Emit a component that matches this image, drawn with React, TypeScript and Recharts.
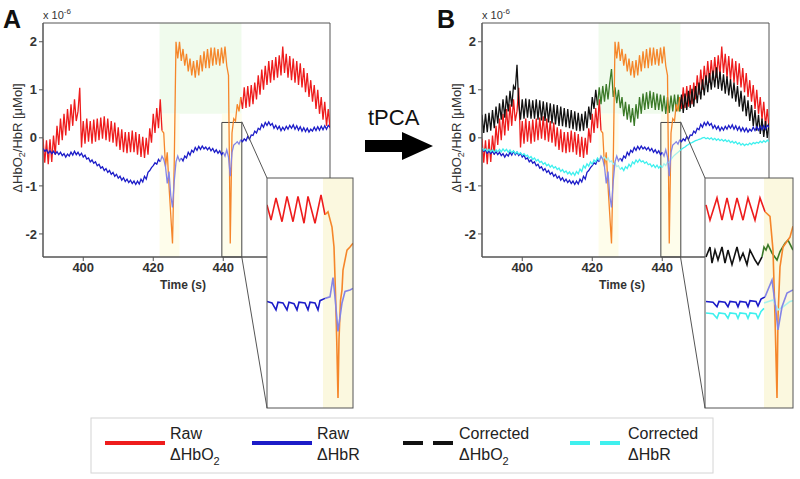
import React from 'react';
import { LineChart, Line, XAxis, YAxis, ReferenceArea } from 'recharts';

// samples every 0.5 s starting at 388.5 s, values in 1e-6 Mol
const T0 = 388.5;
const DT = 0.5;

const rawHbO2 = [
  -0.02, -0.52, -0.05, -0.55, -0.03, -0.5, 0.05, -0.35, 0.25, -0.15,
  0.4, -0.05, 0.5, 0.05, 0.6, 0.15, 0.7, 0.25, 0.8, 0.35,
  0.55, 1.04, -0.2, 0.35, -0.12, 0.4, -0.08, 0.35, -0.12, 0.38,
  -0.08, 0.4, -0.05, 0.42, -0.02, 0.45, -0.05, 0.4, -0.08, 0.35,
  -0.1, 0.32, -0.18, 0.22, -0.25, 0.18, -0.3, 0.12, -0.32, 0.12,
  -0.3, 0.15, -0.3, 0.12, -0.35, 0.08, -0.4, 0.02, -0.42, 0.0,
  -0.35, 0.2, -0.1, 0.5, 0.1, 0.62, 0.2, 0.8, 0.15, 0.1,
  -0.6, -0.3, -1.0, -1.6, -2.2, -0.5, 2.0, 1.65, 2.0, 1.6,
  1.85, 1.5, 1.75, 1.38, 1.65, 1.3, 1.6, 1.25, 1.62, 1.3,
  1.72, 1.38, 1.8, 1.45, 1.85, 1.45, 1.88, 1.5, 1.88, 1.52,
  1.85, 1.5, 1.88, 1.55, 1.9, 1.5, 1.3, -2.2, 0.1, 0.4,
  0.35, 0.7, 0.55, 0.85, 0.6, 1.05, 0.62, 1.08, 0.65, 1.1,
  0.7, 1.15, 0.8, 1.3, 0.9, 1.42, 1.0, 1.5, 1.1, 1.6,
  1.15, 1.62, 1.2, 1.68, 1.25, 1.72, 1.3, 1.9, 1.35, 1.75,
  1.25, 1.7, 1.2, 1.65, 1.15, 1.6, 1.1, 1.55, 1.05, 1.45,
  0.95, 1.35, 0.85, 1.2, 0.75, 1.1, 0.6, 1.0, 0.5, 0.85,
  0.38, 0.75, 0.25, 0.6, 0.2,
];

const rawHbR = [
  -0.22, -0.28, -0.25, -0.32, -0.27, -0.33, -0.28, -0.34, -0.29, -0.35,
  -0.3, -0.37, -0.33, -0.4, -0.34, -0.38, -0.3, -0.36, -0.28, -0.35,
  -0.3, -0.37, -0.32, -0.4, -0.36, -0.44, -0.42, -0.5, -0.46, -0.53,
  -0.5, -0.58, -0.55, -0.63, -0.6, -0.68, -0.64, -0.72, -0.68, -0.76,
  -0.72, -0.8, -0.76, -0.84, -0.8, -0.88, -0.83, -0.91, -0.86, -0.93,
  -0.88, -0.95, -0.9, -0.97, -0.9, -0.96, -0.86, -0.92, -0.8, -0.86,
  -0.72, -0.68, -0.62, -0.58, -0.52, -0.55, -0.45, -0.5, -0.38, -0.45,
  -0.6, -0.95, -0.7, -1.2, -1.45, -0.9, -0.5, -0.38, -0.48, -0.42,
  -0.48, -0.38, -0.42, -0.3, -0.36, -0.26, -0.3, -0.2, -0.26, -0.18,
  -0.24, -0.17, -0.23, -0.19, -0.25, -0.2, -0.27, -0.22, -0.3, -0.25,
  -0.32, -0.27, -0.35, -0.3, -0.38, -0.25, -0.4, -0.8, -0.3, -0.15,
  -0.12, -0.08, -0.13, -0.04, -0.08, -0.02, -0.06, 0.03, -0.03, 0.06,
  0.05, 0.14, 0.1, 0.2, 0.17, 0.28, 0.22, 0.32, 0.26, 0.33,
  0.26, 0.3, 0.2, 0.26, 0.18, 0.24, 0.15, 0.22, 0.16, 0.24,
  0.18, 0.26, 0.2, 0.27, 0.18, 0.25, 0.16, 0.23, 0.14, 0.21,
  0.13, 0.2, 0.12, 0.18, 0.14, 0.22, 0.15, 0.23, 0.16, 0.24,
  0.17, 0.25, 0.18, 0.26, 0.22,
];

const corrHbO2 = [
  0.48, 0.1, 0.5, 0.12, 0.52, 0.15, 0.58, 0.2, 0.65, 0.3,
  0.72, 0.38, 0.8, 0.42, 0.88, 0.55, 0.98, 0.65, 1.08, 1.0,
  1.52, 0.7, 0.38, 0.8, 0.4, 0.82, 0.42, 0.8, 0.4, 0.78,
  0.4, 0.8, 0.38, 0.78, 0.36, 0.76, 0.35, 0.74, 0.32, 0.72,
  0.3, 0.7, 0.28, 0.68, 0.25, 0.65, 0.24, 0.62, 0.22, 0.6,
  0.2, 0.58, 0.18, 0.55, 0.15, 0.52, 0.14, 0.5, 0.15, 0.55,
  0.2, 0.65, 0.38, 0.85, 0.6, 1.0, 0.68, 1.05, 0.7, 1.08,
  0.75, 1.12, 0.8, 1.15, 1.43, 0.85, 1.05, 0.72, 1.0, 0.62,
  0.85, 0.45, 0.75, 0.38, 0.7, 0.32, 0.62, 0.25, 0.7, 0.4,
  0.85, 0.5, 0.92, 0.58, 0.95, 0.6, 0.98, 0.62, 0.95, 0.58,
  0.92, 0.58, 0.9, 0.55, 0.88, 0.5, 0.85, 0.52, 0.88, 0.55,
  0.9, 0.55, 0.9, 0.55, 0.9, 0.52, 0.92, 0.58, 0.98, 0.62,
  1.02, 0.65, 1.08, 0.72, 1.15, 0.8, 1.22, 0.88, 1.3, 0.95,
  1.35, 1.0, 1.4, 1.05, 1.47, 1.02, 1.38, 0.98, 1.32, 0.92,
  1.28, 0.88, 1.22, 0.82, 1.15, 0.75, 1.08, 0.65, 0.98, 0.55,
  0.88, 0.45, 0.78, 0.35, 0.68, 0.25, 0.58, 0.15, 0.48, 0.08,
  0.4, 0.02, 0.35, 0.0, 0.3,
];

const corrHbR = [
  -0.21, -0.26, -0.23, -0.28, -0.24, -0.29, -0.25, -0.3, -0.25, -0.29,
  -0.24, -0.29, -0.23, -0.28, -0.24, -0.3, -0.25, -0.31, -0.27, -0.33,
  -0.29, -0.34, -0.31, -0.36, -0.33, -0.38, -0.36, -0.42, -0.39, -0.45,
  -0.42, -0.48, -0.45, -0.51, -0.49, -0.55, -0.52, -0.58, -0.55, -0.61,
  -0.57, -0.63, -0.6, -0.66, -0.63, -0.7, -0.66, -0.72, -0.69, -0.75,
  -0.71, -0.77, -0.72, -0.78, -0.7, -0.75, -0.65, -0.7, -0.58, -0.63,
  -0.54, -0.59, -0.5, -0.55, -0.46, -0.5, -0.42, -0.47, -0.38, -0.43,
  -0.4, -0.46, -0.42, -0.5, -0.48, -0.55, -0.52, -0.6, -0.58, -0.66,
  -0.62, -0.68, -0.6, -0.64, -0.55, -0.6, -0.5, -0.54, -0.46, -0.51,
  -0.45, -0.5, -0.48, -0.53, -0.5, -0.56, -0.54, -0.6, -0.56, -0.62,
  -0.57, -0.63, -0.58, -0.62, -0.54, -0.58, -0.5, -0.52, -0.45, -0.4,
  -0.36, -0.33, -0.3, -0.27, -0.24, -0.21, -0.19, -0.16, -0.14, -0.11,
  -0.1, -0.08, -0.06, -0.05, -0.03, -0.02, 0.0, 0.01, -0.02, 0.0,
  -0.03, 0.0, -0.04, -0.01, -0.05, -0.02, -0.06, -0.03, -0.07, -0.04,
  -0.08, -0.05, -0.1, -0.07, -0.11, -0.08, -0.13, -0.1, -0.15, -0.12,
  -0.16, -0.13, -0.15, -0.11, -0.14, -0.1, -0.12, -0.09, -0.11, -0.07,
  -0.1, -0.06, -0.09, -0.05, -0.08,
];

// zoomed insets: [time s, value]
const insetARed = [[438.0, 0.25], [438.4, 0.05], [438.9, 0.34], [439.5, 0.03], [440.0, 0.36], [440.6, 0.03], [441.1, 0.36], [441.7, 0.01], [442.1, 0.36], [442.8, 0.01], [443.4, 0.38], [443.8, 0.12]];
const insetAOrange = [[443.8, 0.12], [444.1, 0.16], [444.5, -0.04], [444.7, -0.3], [444.85, -0.9], [444.97, -1.5], [445.1, -2.27], [445.2, -1.5], [445.35, -1.0], [445.5, -0.86], [445.6, -0.6], [446.0, -0.34], [446.3, -0.3], [446.6, -0.25]];
const insetABlue = [[438.0, -1.01], [438.5, -1.03], [438.9, -1.12], [439.1, -1.02], [439.6, -1.03], [440.0, -1.12], [440.2, -1.02], [440.7, -1.04], [441.0, -1.12], [441.2, -1.02], [441.8, -1.03], [442.1, -1.12], [442.3, -1.02], [442.8, -1.03], [443.1, -1.12], [443.3, -1.0], [443.8, -0.97]];
const insetALav = [[443.8, -0.97], [444.3, -0.95], [444.6, -0.7], [444.8, -0.95], [445.1, -1.4], [445.5, -1.03], [445.8, -0.88], [446.3, -0.86], [446.6, -0.84]];

const insetBRed = [[438.1, 0.25], [438.5, 0.05], [439.2, 0.34], [439.7, 0.05], [440.2, 0.34], [440.7, 0.05], [441.2, 0.34], [441.8, 0.05], [442.3, 0.34], [443.0, 0.05], [443.5, 0.34], [444.0, 0.16]];
const insetBOrange = [[444.0, 0.16], [444.5, 0.1], [444.8, -0.34], [445.0, -1.21], [445.2, -2.27], [445.3, -1.21], [445.5, -0.56], [445.8, -0.3], [446.5, -0.17], [446.8, -0.03]];
const insetBBlack = [[438.1, -0.43], [438.5, -0.3], [438.7, -0.51], [439.0, -0.34], [439.3, -0.47], [439.7, -0.3], [440.0, -0.51], [440.3, -0.34], [440.7, -0.53], [441.2, -0.3], [441.5, -0.47], [441.8, -0.38], [442.2, -0.53], [442.5, -0.34], [443.0, -0.47], [443.3, -0.53], [443.7, -0.43]];
const insetBGreen = [[443.7, -0.43], [443.9, -0.3], [444.1, -0.34], [444.3, -0.27], [444.7, -0.38], [445.2, -0.47], [445.5, -0.36], [446.0, -0.25], [446.3, -0.21], [446.8, -0.34]];
const insetBBlue = [[438.1, -1.01], [438.8, -1.02], [439.2, -1.08], [439.4, -1.01], [440.0, -1.02], [440.3, -1.08], [440.5, -1.01], [441.1, -1.02], [441.3, -1.08], [441.5, -1.01], [442.1, -1.02], [442.3, -1.08], [442.5, -1.0], [443.1, -1.01], [443.3, -1.07], [443.6, -0.98], [444.0, -0.95]];
const insetBLav = [[444.0, -0.95], [444.7, -0.73], [445.0, -1.03], [445.3, -1.38], [445.7, -1.08], [446.2, -0.9], [446.8, -0.86]];
const insetBCyan = [[438.1, -1.16], [438.8, -1.17], [439.2, -1.23], [439.4, -1.16], [440.0, -1.17], [440.3, -1.23], [440.5, -1.16], [441.1, -1.17], [441.3, -1.23], [441.5, -1.16], [442.1, -1.17], [442.3, -1.23], [442.5, -1.16], [443.1, -1.17], [443.3, -1.23], [443.6, -1.14], [443.9, -1.1]];
const insetBCyanL = [[443.9, -1.03], [444.8, -0.99], [445.3, -1.12], [445.8, -1.08], [446.5, -1.01], [446.8, -1.0]];

const xTicks = [400, 420, 440];
const yTicks = [-2, -1, 0, 1, 2];
const X_DOMAIN = [388.5, 470.5];
const Y_DOMAIN = [-2.48, 2.39];

const C = {
  red: '#ee1c1c',
  orange: '#f5862a',
  blue: '#1c1cc8',
  lav: '#8484e6',
  black: '#111111',
  green: '#3b7a28',
  cyan: '#3ff0ee',
  cyanL: '#a6f2ee',
};

const inWin = (t: number, a: number, b: number) => t >= a && t <= b;

const mainData = rawHbO2.map((v, i) => {
  const t = T0 + i * DT;
  const lavWin = inWin(t, 422, 428) || inWin(t, 440, 445);
  const blueWin = t <= 422 || inWin(t, 428, 440) || t >= 445;
  return {
    t,
    red: t <= 422.5 || t >= 445 ? v : null,
    orange: inWin(t, 422.5, 445) ? v : null,
    blue: blueWin ? rawHbR[i] : null,
    lav: lavWin ? rawHbR[i] : null,
    black: t <= 421.5 || t >= 445 ? corrHbO2[i] : null,
    green: inWin(t, 421.5, 445) ? corrHbO2[i] : null,
    cyan: blueWin ? corrHbR[i] : null,
    cyanL: lavWin ? corrHbR[i] : null,
  };
});

const toPts = (arr: number[][]) => arr.map(([t, v]) => ({ t, v }));

const tickStyle = { fontSize: 13, fontWeight: 'bold', fill: '#333' };

function Panel({ corrected }: { corrected: boolean }) {
  const ln = (key: string, color: string) => (
    <Line
      key={key}
      dataKey={key}
      stroke={color}
      strokeWidth={1.3}
      dot={false}
      isAnimationActive={false}
      connectNulls={false}
    />
  );
  return (
    <LineChart width={340} height={290} data={mainData} margin={{ top: 23, right: 10, bottom: 0, left: 0 }}>
      <ReferenceArea x1={421.8} x2={445.2} y1={0.5} y2={2.39} fill="#f0fbed" fillOpacity={1} stroke="none" />
      <ReferenceArea x1={421.8} x2={427.5} y1={-2.48} y2={0.5} fill="#fefdeb" fillOpacity={1} stroke="none" />
      <ReferenceArea x1={439.6} x2={445.3} y1={-2.48} y2={0.5} fill="#fefdeb" fillOpacity={1} stroke="none" />
      <XAxis
        dataKey="t"
        type="number"
        domain={X_DOMAIN}
        ticks={xTicks}
        allowDataOverflow
        height={33}
        tickSize={4}
        tick={tickStyle}
        axisLine={{ stroke: '#555' }}
        tickLine={{ stroke: '#555' }}
      />
      <YAxis
        type="number"
        domain={Y_DOMAIN}
        ticks={yTicks}
        allowDataOverflow
        width={43}
        tickSize={4}
        tick={tickStyle}
        axisLine={{ stroke: '#555' }}
        tickLine={{ stroke: '#555' }}
      />
      {ln('red', C.red)}
      {corrected && ln('black', C.black)}
      {corrected && ln('green', C.green)}
      {ln('orange', C.orange)}
      {ln('blue', C.blue)}
      {corrected && ln('cyan', C.cyan)}
      {corrected && ln('cyanL', C.cyanL)}
      {ln('lav', C.lav)}
      <ReferenceArea x1={388.5} x2={470.5} y1={-2.48} y2={2.39} fill="none" stroke="#555" strokeWidth={1} />
      <ReferenceArea x1={439.6} x2={445.3} y1={-2.48} y2={0.32} fill="none" stroke="#444" strokeWidth={1} />
    </LineChart>
  );
}

function Inset({ width, xMax, yellowFrom, series }: { width: number; xMax: number; yellowFrom: number; series: { data: number[][]; color: string }[] }) {
  return (
    <LineChart width={width} height={230} margin={{ top: 0, right: 0, bottom: 0, left: 0 }}>
      <XAxis dataKey="t" type="number" domain={[438, xMax]} allowDataOverflow hide />
      <YAxis type="number" domain={[-2.4, 0.6]} allowDataOverflow hide />
      <ReferenceArea x1={yellowFrom} x2={xMax} y1={-2.4} y2={0.6} fill="#fbf8df" fillOpacity={1} stroke="none" />
      {series.map((s, i) => (
        <Line
          key={i}
          data={toPts(s.data)}
          dataKey="v"
          stroke={s.color}
          strokeWidth={1.6}
          dot={false}
          isAnimationActive={false}
        />
      ))}
    </LineChart>
  );
}

const font = "'Liberation Sans', Arial, Helvetica, sans-serif";

function YLabel({ x }: { x: number }) {
  return (
    <text transform={`translate(${x},138) rotate(-90)`} textAnchor="middle" fontSize={13} fill="#333">
      ΔHbO<tspan fontSize={9} dy={3}>2</tspan>
      <tspan dy={-3}>/HbR [μMol]</tspan>
    </text>
  );
}

function Exp({ x }: { x: number }) {
  return (
    <text x={x} y={19} fontSize={11} fill="#333">
      x 10<tspan fontSize={8} dy={-5}>-6</tspan>
    </text>
  );
}

export default function App() {
  return (
    <div style={{ position: 'absolute', left: 0, top: 0, width: 800, height: 479, background: '#fff', fontFamily: font, overflow: 'hidden' }}>
      <div style={{ position: 'absolute', left: 0, top: 0 }}>
        <Panel corrected={false} />
      </div>
      <div style={{ position: 'absolute', left: 439, top: 0 }}>
        <Panel corrected={true} />
      </div>
      <div style={{ position: 'absolute', left: 267, top: 178, background: '#fff' }}>
        <Inset
          width={86}
          xMax={446.6}
          yellowFrom={443.6}
          series={[
            { data: insetARed, color: C.red },
            { data: insetAOrange, color: C.orange },
            { data: insetABlue, color: C.blue },
            { data: insetALav, color: C.lav },
          ]}
        />
      </div>
      <div style={{ position: 'absolute', left: 705, top: 178, background: '#fff' }}>
        <Inset
          width={88}
          xMax={446.8}
          yellowFrom={443.9}
          series={[
            { data: insetBRed, color: C.red },
            { data: insetBBlack, color: C.black },
            { data: insetBGreen, color: C.green },
            { data: insetBOrange, color: C.orange },
            { data: insetBBlue, color: C.blue },
            { data: insetBCyan, color: C.cyan },
            { data: insetBCyanL, color: C.cyanL },
            { data: insetBLav, color: C.lav },
          ]}
        />
      </div>
      <svg width={800} height={479} style={{ position: 'absolute', left: 0, top: 0, pointerEvents: 'none' }} fontFamily={font}>
        <text x={3} y={28} fontSize={25} fontWeight="bold" fill="#111">A</text>
        <text x={437} y={28} fontSize={25} fontWeight="bold" fill="#111">B</text>
        <Exp x={43} />
        <Exp x={482} />
        <YLabel x={22} />
        <YLabel x={461} />
        <text x={183} y={289} textAnchor="middle" fontSize={12} fontWeight="bold" fill="#333">Time (s)</text>
        <text x={622} y={289} textAnchor="middle" fontSize={12} fontWeight="bold" fill="#333">Time (s)</text>

        <text x={368} y={125} fontSize={22} fill="#111">tPCA</text>
        <polygon points="365,140 402,140 402,132 433,146 402,160 402,152 365,152" fill="#000" />

        <rect x={267} y={178} width={86} height={230} fill="none" stroke="#555" />
        <rect x={705} y={178} width={88} height={230} fill="none" stroke="#555" />
        <line x1={241.8} y1={121.7} x2={267} y2={178} stroke="#555" />
        <line x1={241.8} y1={257} x2={267} y2={408} stroke="#555" />
        <line x1={680.5} y1={121.7} x2={705} y2={178} stroke="#555" />
        <line x1={680.5} y1={257} x2={705} y2={408} stroke="#555" />

        <rect x={91} y={418} width={622} height={55} fill="#fff" stroke="#d4d4d4" />
        <line x1={105} x2={165} y1={443} y2={443} stroke={C.red} strokeWidth={4} />
        <text x={170} y={439} fontSize={16} fill="#222">Raw</text>
        <text x={170} y={460} fontSize={16} fill="#222">ΔHbO<tspan fontSize={11} dy={5}>2</tspan></text>
        <line x1={252} x2={312} y1={443} y2={443} stroke={C.blue} strokeWidth={4} />
        <text x={317} y={439} fontSize={16} fill="#222">Raw</text>
        <text x={317} y={460} fontSize={16} fill="#222">ΔHbR</text>
        <line x1={403} x2={453} y1={443} y2={443} stroke={C.black} strokeWidth={4} strokeDasharray="20 10" />
        <text x={459} y={439} fontSize={16} fill="#222">Corrected</text>
        <text x={459} y={460} fontSize={16} fill="#222">ΔHbO<tspan fontSize={11} dy={5}>2</tspan></text>
        <line x1={570} x2={622} y1={443} y2={443} stroke={C.cyan} strokeWidth={4} strokeDasharray="20 10" />
        <text x={628} y={439} fontSize={16} fill="#222">Corrected</text>
        <text x={628} y={460} fontSize={16} fill="#222">ΔHbR</text>
      </svg>
    </div>
  );
}
